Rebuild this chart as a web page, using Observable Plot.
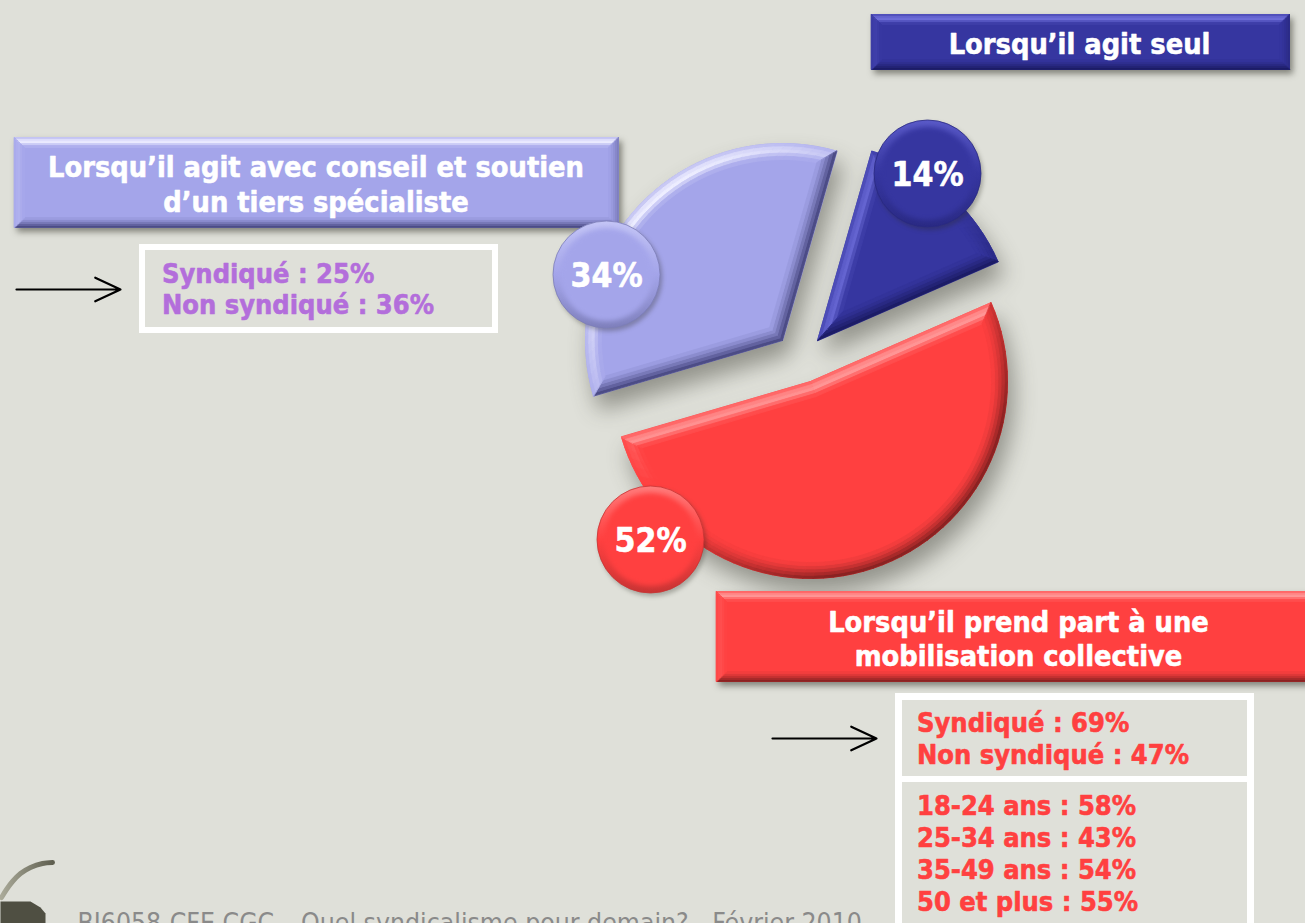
<!DOCTYPE html>
<html lang="fr"><head><meta charset="utf-8">
<script src="https://cdn.jsdelivr.net/npm/d3@7"></script>
<script src="https://cdn.jsdelivr.net/npm/@observablehq/plot@0.6"></script>
<style>
html,body{margin:0;padding:0;background:#dfe0d9;overflow:hidden}
svg{display:block;font-stretch:condensed}
</style></head><body><div id="chart"></div>
<svg width="0" height="0" style="position:absolute"><defs>
<linearGradient id="gd" x1="0" y1="0" x2="0" y2="1"><stop offset="0" stop-color="#5a5ac8"/><stop offset=".5" stop-color="#3636a0"/><stop offset="1" stop-color="#2a2a84"/></linearGradient>
<linearGradient id="gl" x1="0" y1="0" x2="0" y2="1"><stop offset="0" stop-color="#c4c5f6"/><stop offset=".5" stop-color="#a4a5ea"/><stop offset="1" stop-color="#7f80bc"/></linearGradient>
<linearGradient id="gr" x1="0" y1="0" x2="0" y2="1"><stop offset="0" stop-color="#ff7c7c"/><stop offset=".5" stop-color="#ff4040"/><stop offset="1" stop-color="#c83434"/></linearGradient>
<linearGradient id="logo" x1="0" y1="0" x2="1" y2="0"><stop offset="0" stop-color="#a9a998"/><stop offset="1" stop-color="#5f5f50"/></linearGradient>
</defs></svg>
<script>
// ---- data ----
const sliceNames  = ["Lorsqu’il agit seul", "Lorsqu’il prend part à une mobilisation collective", "Lorsqu’il agit avec conseil et soutien d’un tiers spécialiste"];
const sliceValues = [14, 52, 34];
const sliceBase   = ["#3636a0", "#ff4040", "#a4a5ea"];
const sliceLight  = ["#7070dc", "#ff9a9a", "#eeeeff"];
const sliceDark   = ["#1c1c66", "#8a2222", "#4c4c86"];
const sliceGrad   = ["url(#gd)", "url(#gr)", "url(#gl)"];
const badgeEdge   = ["#2a2a80", "#c83434", "#7c7db8"];
const headerLines = [["Lorsqu’il agit seul"], ["Lorsqu’il prend part à une", "mobilisation collective"], ["Lorsqu’il agit avec conseil et soutien", "d’un tiers spécialiste"]];
const lightLines  = ["Syndiqué : 25%", "Non syndiqué : 36%"];
const redLinesA   = ["Syndiqué : 69%", "Non syndiqué : 47%"];
const redLinesB   = ["18-24 ans : 58%", "25-34 ans : 43%", "35-49 ans : 54%", "50 et plus : 55%"];
const footerText  = "BJ6058-CFE CGC – Quel syndicalisme pour demain? - Février 2010";

// ---- layout ----
const BG = "#dfe0d9", FONT = "'DejaVu Sans Condensed','DejaVu Sans',sans-serif";
const startAngle = 16, radius = 197, bevel = 16;
const apexes   = [[817, 340], [810, 381], [782, 340]];
const badges   = [[927, 173], [650, 539], [606, 274]];
const headers  = [[871, 14, 1289, 69], [716, 591, 1320, 681], [14, 137, 618, 227]];
const headerX  = [1079, 1018, 315.5];
const headerY  = [[44], [622, 656], [167, 202]];
const frames   = [[139, 244, 498, 333], [895, 693, 1254, 940]];
const innerBox = [[145, 250, 492, 327], [902, 700, 1247, 776], [902, 782, 1247, 940]];

const rad = d => d * Math.PI / 180;
let acc = startAngle;
const slices = sliceValues.map((v, i) => {
  const a0 = acc, a1 = acc + v * 3.6; acc = a1;
  return {i, a0, a1, apex: apexes[i]};
});
function sectorPoly(s, d) {
  const [cx, cy] = s.apex, r = radius - d;
  const shift = d ? Math.asin(d / r) * 180 / Math.PI : 0;
  const span = s.a1 - s.a0, mid = (s.a0 + s.a1) / 2;
  const k = d / Math.sin(rad(span / 2));
  const pts = [[cx + k * Math.sin(rad(mid)), cy - k * Math.cos(rad(mid))]];
  const n = Math.ceil(span / 3);
  for (let j = 0; j <= n; j++) {
    const a = s.a0 + shift + (span - 2 * shift) * j / n;
    pts.push([cx + r * Math.sin(rad(a)), cy - r * Math.cos(rad(a))]);
  }
  return pts;
}
function rectPoly(b, d) {
  return [[b[0] + d, b[1] + d], [b[2] - d, b[1] + d], [b[2] - d, b[3] - d], [b[0] + d, b[3] - d]];
}
// bevel: rings of quads, each shaded by which way its edge faces
const lightRamp = [.5, .85, 1, .55, .15], darkRamp = [1, .75, .5, .28, .1];
let qid = 0;
function bevelQuads(polyAt, w, base, light, dark, lx, ly) {
  const out = [], P0 = polyAt(0), n = P0.length;
  for (let k = 0; k < 5; k++) {
    const A = polyAt(w * k / 5), B = polyAt(w * (k + 1) / 5);
    for (let i = 0; i < n; i++) {
      const j = (i + 1) % n;
      const ex = P0[j][0] - P0[i][0], ey = P0[j][1] - P0[i][1], L = Math.hypot(ex, ey);
      let nx = ey / L, ny = -ex / L;
      // make the normal point out of the shape
      if (d3.polygonContains(P0, [(P0[i][0] + P0[j][0]) / 2 + nx, (P0[i][1] + P0[j][1]) / 2 + ny])) { nx = -nx; ny = -ny; }
      const s = nx * lx + ny * ly;
      const c = s >= 0 ? d3.interpolateRgb(base, light)(Math.max(0, Math.min(1, s * 1.2 - .2)) * lightRamp[k])
                       : d3.interpolateRgb(base, dark)(Math.min(1, -s * 1.1 + .1) * darkRamp[k]);
      const id = qid++;
      for (const p of [A[i], A[j], B[j], B[i]]) out.push({id, x: p[0], y: p[1], c});
    }
  }
  return out;
}
const polyRows = (pts, id, c) => pts.map(p => ({id, x: p[0], y: p[1], c}));

const sliceBaseRows = slices.flatMap(s => polyRows(sectorPoly(s, 0), "s" + s.i, sliceBase[s.i]));
const sliceQuads = slices.flatMap(s => bevelQuads(d => sectorPoly(s, d), bevel, sliceBase[s.i], sliceLight[s.i], sliceDark[s.i], -.65, -.76));
const headerBaseRows = headers.flatMap((b, i) => polyRows(rectPoly(b, 0), "h" + i, sliceBase[i]));
const headerQuads = headers.flatMap((b, i) => bevelQuads(d => rectPoly(b, d), 10, sliceBase[i], sliceLight[i], sliceDark[i], -.3, -.95));

const poly = (rows, extra = {}) => Plot.line(rows, {x: "x", y: "y", z: "id", fill: "c", stroke: "c", strokeWidth: .8, curve: "linear-closed", ...extra});
const boxes = (list, fill) => Plot.rect(list, {x1: d => d[0], y1: d => d[1], x2: d => d[2], y2: d => d[3], fill});
const textAt = (rows, o) => Plot.text(rows, {x: "x", y: "y", text: "t", fontFamily: FONT, fontWeight: "bold", stroke: o.fill, strokeWidth: .55, ...o});

const badgeRows = slices.map(s => ({x: badges[s.i][0], y: badges[s.i][1], t: sliceValues[s.i] + "%", g: sliceGrad[s.i], b: sliceBase[s.i], d: badgeEdge[s.i]}));
const headerText = headerLines.flatMap((ls, i) => ls.map((t, j) => ({t, x: headerX[i], y: headerY[i][j]})));
const left = (ls, x, y0, dy) => ls.map((t, j) => ({t, x, y: y0 + j * dy}));

const swoosh = ["52,862", "42,863", "30,867", "20,873", "12,881", "6,889", "1,897"].map(s => { const [x, y] = s.split(",").map(Number); return {x, y}; });
const blob = [[0, 901], [30, 901], [40, 907], [45, 913], [45, 923], [0, 923]];

const chart = Plot.plot({
  width: 1305, height: 923, margin: 0,
  style: {background: BG, fontStretch: "condensed"},
  x: {domain: [0, 1305], range: [0, 1305], axis: null},
  y: {domain: [0, 923], range: [0, 923], axis: null},
  color: {type: "identity"},
  marks: [
    // pie slices
    poly(sliceBaseRows, {imageFilter: "drop-shadow(6px 14px 11px rgba(40,40,30,.42))"}),
    poly(sliceQuads),
    // header bars
    poly(headerBaseRows, {imageFilter: "drop-shadow(3px 4px 3px rgba(40,40,30,.5))"}),
    poly(headerQuads),
    textAt(headerText, {fill: "white", fontSize: 28.7}),
    // framed note boxes
    boxes(frames, "white"),
    boxes(innerBox, BG),
    textAt(left(lightLines, 161.5, 274, 31), {textAnchor: "start", fill: "#b36edb", fontSize: 27}),
    textAt(left(redLinesA, 916.5, 723, 32), {textAnchor: "start", fill: "#ff4040", fontSize: 27}),
    textAt(left(redLinesB, 916.5, 806, 32), {textAnchor: "start", fill: "#ff4040", fontSize: 27}),
    // arrows
    Plot.arrow([[16, 289, 120, 289], [772, 738, 876, 738]], {x1: d => d[0], y1: d => d[1], x2: d => d[2], y2: d => d[3], stroke: "black", strokeWidth: 2.2, headLength: 19, headAngle: 50, bend: 0}),
    // value badges
    Plot.dot(badgeRows, {x: "x", y: "y", r: 53.5, fill: "g", stroke: "d", strokeWidth: .8, imageFilter: "drop-shadow(2px 3px 2px rgba(40,40,30,.3))"}),
    Plot.dot(badgeRows, {x: "x", y: "y", r: 46.5, fill: "b", imageFilter: "blur(2.5px)"}),
    textAt(badgeRows, {fill: "white", fontSize: 33.5, dy: 2}),
    // footer
    Plot.line(swoosh, {x: "x", y: "y", stroke: "url(#logo)", strokeWidth: 5, strokeLinecap: "round", curve: "catmull-rom"}),
    Plot.line(blob.map(p => ({x: p[0], y: p[1]})), {x: "x", y: "y", fill: "#4f4f42", curve: "linear-closed"}),
    Plot.text([footerText], {x: () => 77, y: () => 923, textAnchor: "start", fill: "#8a8a8a", fontFamily: FONT, fontSize: 26.4})
  ]
});
document.getElementById("chart").append(chart);
</script></body></html>
